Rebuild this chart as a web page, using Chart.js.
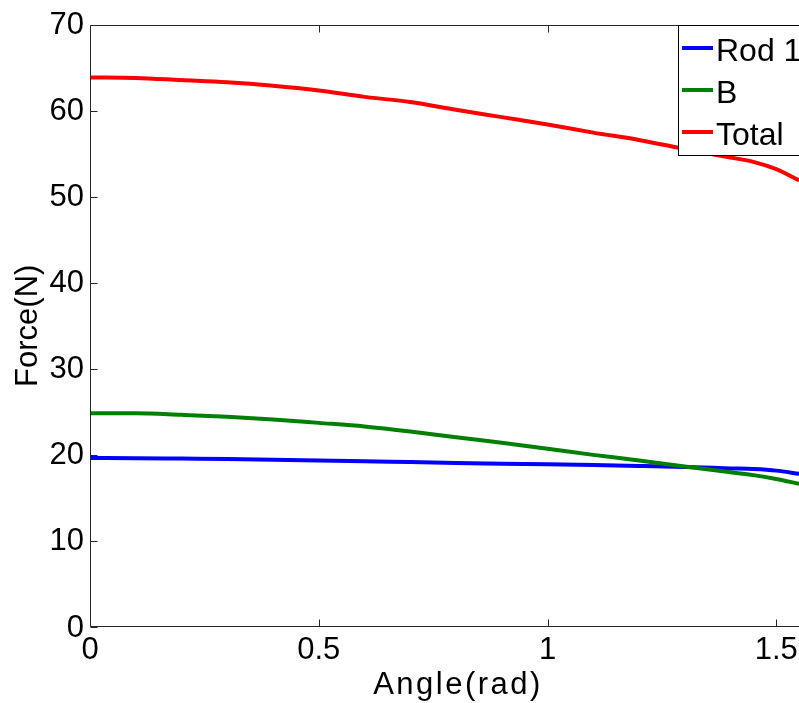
<!DOCTYPE html>
<html>
<head>
<meta charset="utf-8">
<script src="https://cdn.jsdelivr.net/npm/chart.js@4.4.1/dist/chart.umd.min.js"></script>
<style>
  html, body { margin: 0; padding: 0; background: #ffffff; overflow: hidden; width: 799px; height: 703px; }
  canvas { display: block; }
</style>
</head>
<body>
<canvas id="forceChart" width="824" height="703"></canvas>
<script>
// Angle samples (rad) and the forces computed at each one (N)
const angles = [0, 0.1, 0.2, 0.3, 0.4, 0.5, 0.6, 0.7, 0.8, 0.9, 1.0, 1.1, 1.2, 1.3, 1.4, 1.45, 1.5, 1.55];
const rod1   = [19.64, 19.62, 19.57, 19.52, 19.44, 19.36, 19.27, 19.16, 19.06, 18.98, 18.9, 18.82, 18.72, 18.6, 18.43, 18.35, 18.17, 17.8];
const bForce = [24.83, 24.83, 24.65, 24.43, 24.12, 23.72, 23.3, 22.72, 22.05, 21.4, 20.72, 20.0, 19.35, 18.65, 17.98, 17.65, 17.2, 16.64];
const total  = [63.86, 63.8, 63.55, 63.3, 62.9, 62.35, 61.6, 61.0, 60.1, 59.25, 58.4, 57.45, 56.6, 55.55, 54.55, 54.05, 53.2, 51.9];

const seriesNames = ['Rod 1', 'B', 'Total'];
const seriesColors = ['#0000ff', '#008000', '#ff0000'];

const xTicks = [0, 0.5, 1, 1.5];
const yTicks = [0, 10, 20, 30, 40, 50, 60, 70];
const xTitle = 'Angle(rad)';
const yTitle = 'Force(N)';

const FONT = '"Liberation Sans", Arial, Helvetica, sans-serif';

function toPoints(ys) {
  return angles.map((a, i) => ({ x: a, y: ys[i] }));
}

// Box frame with inward ticks, axis titles and a boxed legend
const axesDecor = {
  id: 'axesDecor',
  afterDatasetsDraw(chart) {
    const { ctx, chartArea: a, scales: { x, y } } = chart;
    const L = Math.round(a.left) + 0.5;
    const R = Math.round(a.right) - 0.5;
    const T = Math.round(a.top) + 0.5;
    const B = Math.round(a.bottom) - 0.5;
    const tickLen = 7;
    ctx.save();
    ctx.lineWidth = 1;
    ctx.strokeStyle = '#262626';
    ctx.beginPath();
    ctx.rect(L, T, R - L, B - T);
    xTicks.forEach(v => {
      const px = Math.round(x.getPixelForValue(v)) + 0.5;
      ctx.moveTo(px, B); ctx.lineTo(px, B - tickLen);
      ctx.moveTo(px, T); ctx.lineTo(px, T + tickLen);
    });
    yTicks.forEach(v => {
      const py = Math.round(y.getPixelForValue(v)) + 0.5;
      ctx.moveTo(L, py); ctx.lineTo(L + tickLen, py);
      ctx.moveTo(R, py); ctx.lineTo(R - tickLen, py);
    });
    ctx.stroke();

    // legend
    const box = { left: 678.5, top: 25.5, right: 819.5, bottom: 155.5 };
    ctx.fillStyle = '#ffffff';
    ctx.fillRect(box.left, box.top, box.right - box.left, box.bottom - box.top);
    ctx.strokeStyle = '#000000';
    ctx.strokeRect(box.left, box.top, box.right - box.left, box.bottom - box.top);
    const rowY = [48, 90, 132];
    ctx.font = '32px ' + FONT;
    ctx.textBaseline = 'alphabetic';
    ctx.textAlign = 'left';
    chart.data.datasets.forEach((ds, i) => {
      ctx.strokeStyle = ds.borderColor;
      ctx.lineWidth = 4;
      ctx.beginPath();
      ctx.moveTo(682, rowY[i]);
      ctx.lineTo(713, rowY[i]);
      ctx.stroke();
      ctx.fillStyle = '#000000';
      ctx.fillText(ds.label, 716, rowY[i] + 13);
    });

    // axis titles
    ctx.fillStyle = '#000000';
    ctx.font = '31px ' + FONT;
    ctx.textAlign = 'center';
    ctx.textBaseline = 'alphabetic';
    ctx.save();
    ctx.letterSpacing = '2.5px';
    ctx.fillText(xTitle, 458, 694);
    ctx.restore();
    ctx.save();
    ctx.translate(37, (a.top + a.bottom) / 2);
    ctx.rotate(-Math.PI / 2);
    ctx.fillText(yTitle, 0, 0);
    ctx.restore();
    ctx.restore();
  }
};

new Chart(document.getElementById('forceChart'), {
  type: 'line',
  data: {
    datasets: [
      { label: seriesNames[0], data: toPoints(rod1),   borderColor: seriesColors[0], order: 3 },
      { label: seriesNames[1], data: toPoints(bForce), borderColor: seriesColors[1], order: 2 },
      { label: seriesNames[2], data: toPoints(total),  borderColor: seriesColors[2], order: 1 }
    ]
  },
  options: {
    responsive: false,
    animation: false,
    devicePixelRatio: 1,
    layout: { padding: { top: 20, right: 2, left: 0, bottom: 0 } },
    datasets: {
      line: {
        borderWidth: 4,
        pointRadius: 0,
        fill: false,
        cubicInterpolationMode: 'monotone'
      }
    },
    plugins: {
      legend: { display: false },
      tooltip: { enabled: false }
    },
    scales: {
      x: {
        type: 'linear',
        min: 0,
        max: 1.6,
        grid: { display: false, drawTicks: false },
        border: { display: false },
        afterBuildTicks: s => { s.ticks = xTicks.map(v => ({ value: v })); },
        afterFit: s => { s.height = 76; },
        ticks: {
          padding: 5,
          color: '#000000',
          font: { family: FONT, size: 31 },
          maxRotation: 0,
          autoSkip: false,
          callback: v => String(v)
        }
      },
      y: {
        type: 'linear',
        min: 0,
        max: 70,
        grid: { display: false, drawTicks: false },
        border: { display: false },
        afterBuildTicks: s => { s.ticks = yTicks.map(v => ({ value: v })); },
        afterFit: s => { s.width = 90; },
        ticks: {
          padding: 6,
          labelOffset: 1,
          color: '#000000',
          font: { family: FONT, size: 31 },
          autoSkip: false,
          callback: v => String(v)
        }
      }
    }
  },
  plugins: [axesDecor]
});
</script>
</body>
</html>
